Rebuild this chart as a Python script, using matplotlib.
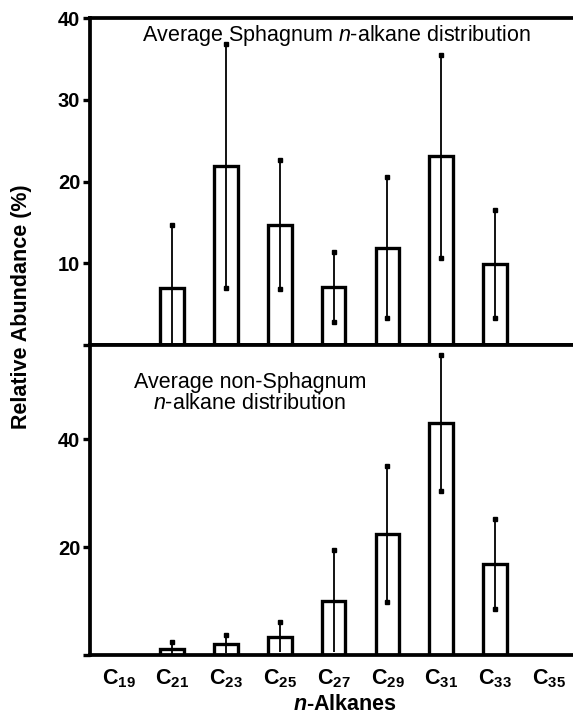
import matplotlib
matplotlib.use("Agg")
import matplotlib.pyplot as plt
import numpy as np

plt.rcParams["font.family"] = "Liberation Sans"
plt.rcParams["mathtext.fontset"] = "custom"
plt.rcParams["mathtext.rm"] = "Liberation Sans"
plt.rcParams["mathtext.it"] = "Liberation Sans:italic"
plt.rcParams["mathtext.bf"] = "Liberation Sans:bold"
plt.rcParams["mathtext.bfit"] = "Liberation Sans:italic:bold"

# chain lengths on the x axis
chains = [19, 21, 23, 25, 27, 29, 31, 33, 35]
tick_labels = [r"$\mathbf{C}_{\mathbf{%d}}$" % c for c in chains]

# Sphagnum (top panel), mean and error (nan = no bar)
sph_mean = [np.nan, 7.0, 21.9, 14.7, 7.1, 11.9, 23.1, 9.9, np.nan]
sph_err = [np.nan, 7.7, 14.9, 7.9, 4.3, 8.6, 12.4, 6.6, np.nan]

# non-Sphagnum (bottom panel)
non_mean = [np.nan, 1.1, 2.0, 3.3, 10.0, 22.4, 43.1, 16.9, np.nan]
non_err = [np.nan, 1.3, 1.7, 2.8, 9.4, 12.6, 12.6, 8.3, np.nan]

LW = 2.4

fig = plt.figure(figsize=(5.73, 7.2), dpi=100)
ax1 = fig.add_axes([90 / 573, 1 - 345 / 720, 1 - 90 / 573, (345 - 18) / 720])
ax2 = fig.add_axes([90 / 573, 1 - 655 / 720, 1 - 90 / 573, (655 - 345) / 720])


def draw_panel(ax, mean, err, ymax, yticks):
    x = np.arange(len(chains))
    mean = np.array(mean)
    err = np.array(err)
    ok = ~np.isnan(mean)
    ax.bar(x[ok], mean[ok], width=0.44, color="white", edgecolor="black",
           linewidth=LW, zorder=2)
    ax.errorbar(x[ok], mean[ok], yerr=err[ok], fmt="none", ecolor="black",
                elinewidth=1.3, capsize=0, zorder=3)
    hi = mean[ok] + err[ok]
    lo = mean[ok] - err[ok]
    ax.plot(x[ok], hi, "s", color="black", ms=3, zorder=4)
    ax.plot(x[ok][lo > 1], lo[lo > 1], "s", color="black", ms=3, zorder=4)
    ax.set_xlim(-0.53, 8.45)
    ax.set_ylim(0, ymax)
    ax.set_yticks(yticks)
    ax.set_yticklabels([""] + [str(t) for t in yticks[1:]])
    ax.tick_params(axis="y", direction="out", length=5, width=LW,
                   labelsize=14.5, pad=2)
    for lab in ax.get_yticklabels():
        lab.set_fontweight("bold")
    ax.spines["right"].set_visible(False)
    for s in ["left", "bottom", "top"]:
        ax.spines[s].set_linewidth(LW + 0.3)


draw_panel(ax1, sph_mean, sph_err, 40, [0, 10, 20, 30, 40])
draw_panel(ax2, non_mean, non_err, 57.5, [0, 20, 40])

ax1.set_xticks([])
ax2.set_xticks(np.arange(len(chains)))
ax2.set_xticklabels(tick_labels)
ax2.tick_params(axis="x", length=0, labelsize=15.5, pad=9)

ax1.text(0.51, 0.948, r"Average Sphagnum $\mathit{n}$-alkane distribution",
         transform=ax1.transAxes, ha="center", va="center", fontsize=15.5)
ax2.text(0.331, 0.845, "Average non-Sphagnum\n" + r"$\mathit{n}$-alkane distribution",
         transform=ax2.transAxes, ha="center", va="center", fontsize=15.5,
         linespacing=1.05)

fig.text(22 / 573, 1 - 307 / 720, "Relative Abundance (%)", rotation=90,
         ha="center", va="center", fontsize=15.5, fontweight="bold")
fig.text(345 / 573, 1 - 704 / 720, r"$\mathbfit{n}$-Alkanes", ha="center",
         va="center", fontsize=15.5, fontweight="bold")

fig.savefig("out.png", dpi=100)
